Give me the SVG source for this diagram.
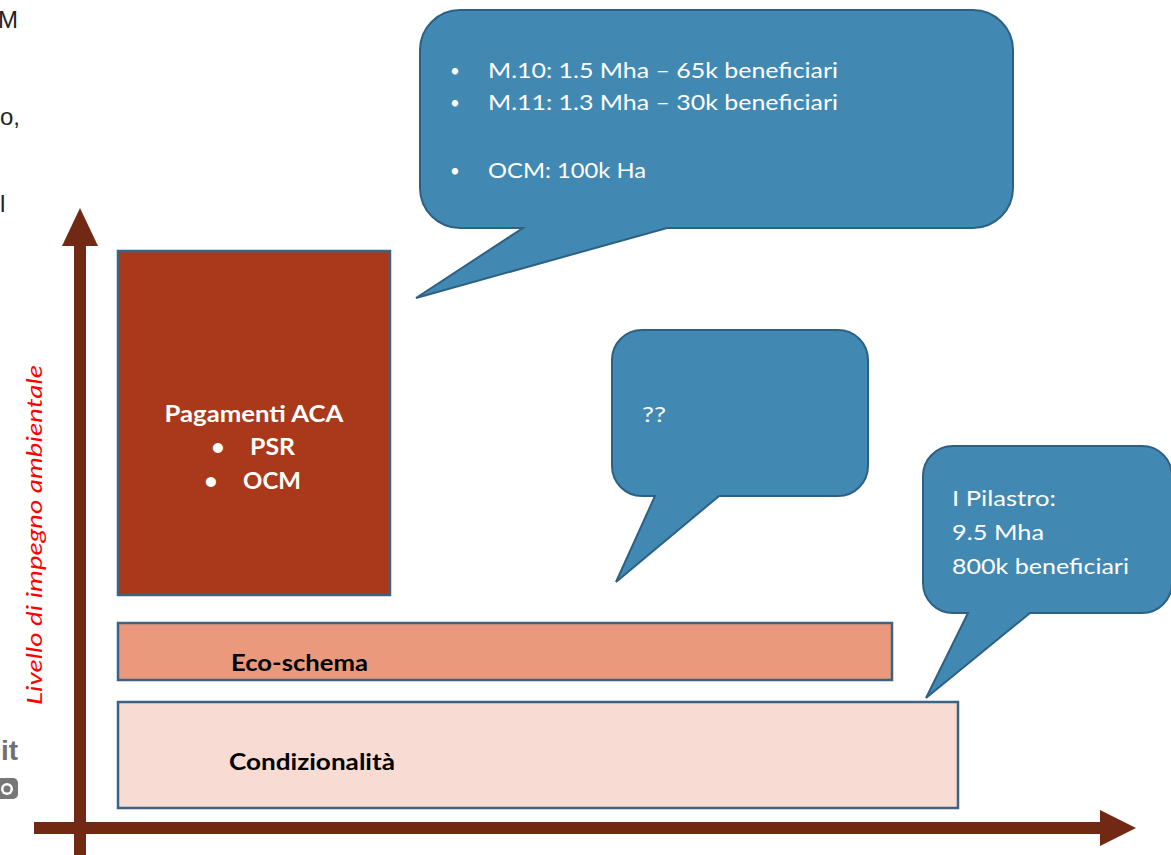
<svg xmlns="http://www.w3.org/2000/svg" width="1171" height="855" viewBox="0 0 1171 855">
<style>
.callout{fill:#4189B3;stroke:#2E6083;stroke-width:2}
.box{stroke:#3A6485;stroke-width:2.5}
.axis{fill:#722914}
.wt{font-family:Lato,"Open Sans",sans-serif;fill:#fff;font-size:22px}
.bul{font-family:Lato,"Open Sans",sans-serif;fill:#fff;font-size:17px}
.bw{font-family:Lato,"Open Sans",sans-serif;fill:#fff;font-size:23px;font-weight:bold}
.bk{font-family:Lato,"Open Sans",sans-serif;fill:#000;font-size:22px;font-weight:bold}
.frag{font-family:"Liberation Sans",Arial,sans-serif;fill:#222;font-size:24px}
</style>
<rect width="1171" height="855" fill="#fff"/>
<g id="fragments">
<text class="frag" x="-2" y="28">M</text>
<text class="frag" x="0" y="125">o,</text>
<text class="frag" x="0" y="212">l</text>
<text x="18" y="760" text-anchor="end" font-family="'Liberation Sans Narrow','Liberation Sans',Arial,sans-serif" font-size="28" font-weight="bold" fill="#707070">it</text>
<rect x="-6" y="778" width="24" height="21" rx="5" fill="#777"/>
<circle cx="7" cy="789" r="6" fill="#fff"/>
<circle cx="7" cy="789" r="3.5" fill="#777"/>
</g>
<g id="connectors">
<rect class="axis" x="74" y="240" width="12" height="615"/>
<polygon class="axis" points="80,208 98,246 62,246"/>
<rect class="axis" x="34" y="822" width="1070" height="12"/>
<polygon class="axis" points="1136,828 1100,810 1100,846"/>
</g>
<g id="ylabel">
<text transform="translate(42,535) rotate(-90)" text-anchor="middle" font-family="Lato,'Open Sans',sans-serif" font-style="italic" font-size="21" fill="#FF0000" textLength="340" lengthAdjust="spacingAndGlyphs">Livello di impegno ambientale</text>
</g>
<g id="pagamenti">
<rect class="box" x="118" y="251" width="272" height="344" fill="#A9391A"/>
<text class="bw" x="254" y="422" text-anchor="middle" textLength="179" lengthAdjust="spacingAndGlyphs">Pagamenti ACA</text>
<text class="bw" x="218" y="455" text-anchor="middle">•</text>
<text class="bw" x="250" y="455" textLength="45" lengthAdjust="spacingAndGlyphs">PSR</text>
<text class="bw" x="211" y="489" text-anchor="middle">•</text>
<text class="bw" x="243" y="489" textLength="58" lengthAdjust="spacingAndGlyphs">OCM</text>
</g>
<g id="ecoschema">
<rect class="box" x="118" y="623" width="774" height="57" fill="#EA997D"/>
<text class="bk" x="231" y="671" textLength="137" lengthAdjust="spacingAndGlyphs">Eco-schema</text>
</g>
<g id="condizionalita">
<rect class="box" x="118" y="702" width="840" height="106" fill="#F8DCD4"/>
<text class="bk" x="229" y="770" textLength="166" lengthAdjust="spacingAndGlyphs">Condizionalità</text>
</g>
<g id="callout-misure">
<path class="callout" d="M460,10 H973 A40,40 0 0 1 1013,50 V188 A40,40 0 0 1 973,228 H667 L416,298 L523,228 H460 A40,40 0 0 1 420,188 V50 A40,40 0 0 1 460,10 Z"/>
<text class="bul" x="455" y="77" text-anchor="middle">•</text>
<text class="wt" x="488" y="78" textLength="350" lengthAdjust="spacingAndGlyphs">M.10: 1.5 Mha – 65k beneficiari</text>
<text class="bul" x="455" y="109" text-anchor="middle">•</text>
<text class="wt" x="488" y="110" textLength="350" lengthAdjust="spacingAndGlyphs">M.11: 1.3 Mha – 30k beneficiari</text>
<text class="bul" x="455" y="177" text-anchor="middle">•</text>
<text class="wt" x="488" y="178" textLength="158" lengthAdjust="spacingAndGlyphs">OCM: 100k Ha</text>
</g>
<g id="callout-eco">
<path class="callout" d="M642,330 H838 A30,30 0 0 1 868,360 V466 A30,30 0 0 1 838,496 H719 L616,582 L655,496 H642 A30,30 0 0 1 612,466 V360 A30,30 0 0 1 642,330 Z"/>
<text class="wt" x="642" y="422" textLength="24" lengthAdjust="spacingAndGlyphs">??</text>
</g>
<g id="callout-pilastro">
<path class="callout" d="M953,446 H1142 A30,30 0 0 1 1172,476 V583 A30,30 0 0 1 1142,613 H1030 L926,698 L968,613 H953 A30,30 0 0 1 923,583 V476 A30,30 0 0 1 953,446 Z"/>
<text class="wt" x="952" y="506" textLength="104" lengthAdjust="spacingAndGlyphs">I Pilastro:</text>
<text class="wt" x="952" y="540" textLength="92" lengthAdjust="spacingAndGlyphs">9.5 Mha</text>
<text class="wt" x="952" y="574" textLength="177" lengthAdjust="spacingAndGlyphs">800k beneficiari</text>
</g>
</svg>
